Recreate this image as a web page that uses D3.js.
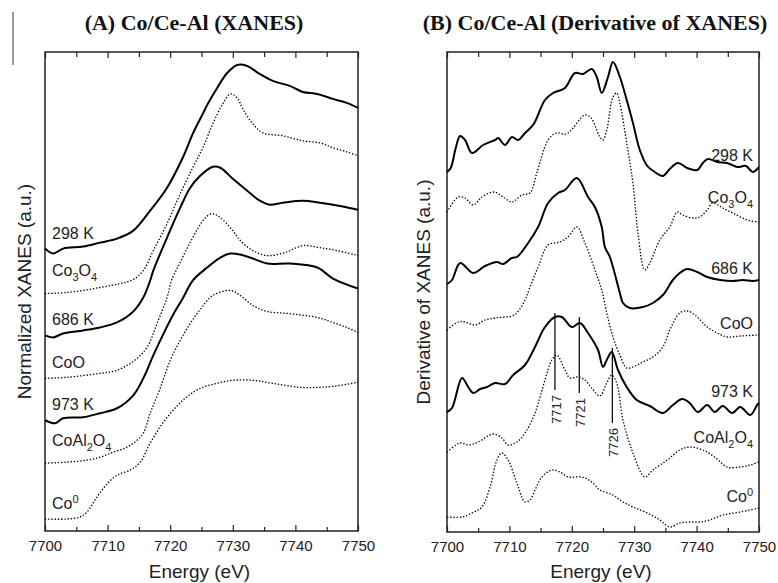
<!DOCTYPE html>
<html>
<head>
<meta charset="utf-8">
<script src="https://cdn.jsdelivr.net/npm/d3@7"></script>
<style>
  body { margin: 0; background: #fff; }
  svg { display: block; font-family: "Liberation Sans", Arial, sans-serif; }
  .title { font-family: "Liberation Serif", "Times New Roman", serif; font-weight: bold; font-size: 22px; fill: #111; }
  .axis-title { font-size: 19px; fill: #222; }
  .tick text { font-size: 15px; fill: #222; font-family: "Liberation Sans", Arial, sans-serif; }
  .tick line { stroke: #222; stroke-width: 1.2; }
  .curve-label { font-size: 16px; fill: #222; }
  .marker-label { font-size: 13px; fill: #222; }
</style>
</head>
<body>
<svg id="chart" width="778" height="583"></svg>
<script>
// energy axis (eV)
const energyTicks = [7700, 7710, 7720, 7730, 7740, 7750];
const minorTicks = [7705, 7715, 7725, 7735, 7745];

// (A) normalized XANES, stacked (a.u.)
const xanes298K = [[7700,2.83],[7701.3,2.78],[7702.9,2.83],[7706.1,2.85],[7708.8,2.89],[7711.5,2.93],[7714.1,3.01],[7716.8,3.21],[7719.5,3.44],[7722,3.74],[7723.6,3.98],[7725.2,4.18],[7726,4.28],[7727.5,4.44],[7729.1,4.59],[7730.7,4.67],[7732.3,4.66],[7734.3,4.58],[7736.4,4.51],[7739.1,4.46],[7741.2,4.40],[7743.5,4.38],[7746,4.33],[7748.2,4.29],[7750,4.24]];
const xanesCo3O4 = [[7700,2.38],[7703.5,2.39],[7708.8,2.44],[7712,2.48],[7714.1,2.52],[7715.7,2.61],[7717.3,2.81],[7719.5,3.08],[7721.6,3.38],[7723.6,3.64],[7725.2,3.84],[7726.8,4.08],[7728.4,4.28],[7729.6,4.38],[7730.7,4.34],[7731.6,4.23],[7733.2,4.08],[7734.8,3.99],[7738,3.96],[7741.2,3.91],[7743.9,3.89],[7746,3.84],[7748.2,3.80],[7750,3.76]];
const xanes686K = [[7700,1.96],[7701.3,1.94],[7702.9,1.98],[7706.1,2.01],[7708.8,2.04],[7711.5,2.09],[7714.1,2.20],[7715.7,2.34],[7716.8,2.51],[7717.3,2.61],[7719.5,2.94],[7721.6,3.24],[7723.2,3.44],[7724.8,3.56],[7726.8,3.65],[7728,3.64],[7730,3.53],[7732.3,3.41],[7734.3,3.31],[7735.9,3.27],[7738,3.29],[7741.2,3.31],[7743.9,3.29],[7746,3.27],[7750,3.22]];
const xanesCoO = [[7700,1.53],[7703.5,1.54],[7708.8,1.58],[7711.5,1.61],[7714.1,1.70],[7716.3,1.84],[7717.9,2.08],[7719.5,2.34],[7720.2,2.51],[7721.5,2.68],[7723,2.87],[7724.5,3.04],[7725.5,3.13],[7726.6,3.18],[7728,3.14],[7730,3.01],[7731.2,2.91],[7733.2,2.81],[7735.5,2.76],[7738.3,2.79],[7741.2,2.86],[7743.9,2.84],[7746.6,2.81],[7750,2.76]];
const xanes973K = [[7700,1.11],[7701.6,1.08],[7702.9,1.13],[7706.1,1.14],[7708.8,1.18],[7711.5,1.23],[7714.1,1.36],[7715.7,1.53],[7717.3,1.76],[7718.8,1.96],[7720.4,2.16],[7722,2.33],[7723.6,2.51],[7725.9,2.64],[7728,2.74],[7729.6,2.78],[7731.2,2.77],[7733.2,2.73],[7735.5,2.68],[7739.1,2.68],[7743.5,2.64],[7746,2.53],[7750,2.43]];
const xanesCoAl2O4 = [[7700,0.68],[7703.5,0.69],[7706.7,0.71],[7708.8,0.74],[7710.9,0.79],[7713.1,0.84],[7714.7,0.91],[7715.7,0.98],[7716.8,1.18],[7718.4,1.43],[7720,1.71],[7721.6,1.91],[7723.2,2.08],[7724.8,2.22],[7726.8,2.36],[7729.6,2.41],[7731.2,2.36],[7733.2,2.26],[7735.5,2.20],[7738.7,2.18],[7743.5,2.14],[7746,2.09],[7748.2,2.04],[7750,1.99]];
const xanesCo0 = [[7700,0.12],[7703.5,0.12],[7705.6,0.14],[7706.7,0.19],[7708.3,0.34],[7709.9,0.47],[7711.5,0.56],[7713.6,0.61],[7715.2,0.69],[7716.8,0.88],[7718.8,1.08],[7721.2,1.26],[7723.2,1.37],[7725.2,1.44],[7727.5,1.48],[7730,1.51],[7733.2,1.51],[7736.4,1.48],[7740.7,1.44],[7743.9,1.44],[7746,1.45],[7750,1.49]];

// (B) derivative of XANES, stacked (a.u.)
const deriv298K = [[7700,3.60],[7700.6,3.64],[7701.4,3.84],[7702.1,3.96],[7702.9,3.92],[7704,3.79],[7705.8,3.87],[7707.7,3.92],[7708.2,3.94],[7709.3,3.87],[7710.4,3.95],[7711.4,3.92],[7712.5,3.99],[7713.9,4.08],[7715.7,4.32],[7717,4.39],[7718.9,4.44],[7720.5,4.59],[7721.8,4.58],[7723.2,4.63],[7724,4.55],[7724.8,4.39],[7725.8,4.55],[7726.6,4.70],[7727.6,4.57],[7728.8,4.32],[7729.8,4.09],[7730.9,3.82],[7732.1,3.66],[7733.3,3.60],[7734.6,3.56],[7735.7,3.63],[7737,3.69],[7738.5,3.64],[7740.1,3.62],[7741,3.69],[7741.8,3.73],[7743.3,3.70],[7744.9,3.69],[7746.5,3.65],[7747.9,3.66],[7749,3.60],[7750,3.65]];
const derivCo3O4 = [[7700,3.20],[7701.8,3.35],[7702.9,3.34],[7704.2,3.27],[7705.6,3.35],[7707.5,3.40],[7709,3.35],[7710.4,3.30],[7712,3.37],[7713.3,3.39],[7714.4,3.59],[7716.2,3.92],[7717.5,3.99],[7719.1,3.98],[7720.2,4.04],[7722.1,4.17],[7723.1,4.14],[7724.4,3.96],[7725,3.92],[7725.6,4.02],[7726.6,4.35],[7727.2,4.39],[7727.7,4.29],[7728.8,3.89],[7729.8,3.49],[7730.6,2.99],[7731.7,2.62],[7732.5,2.69],[7734.1,2.92],[7735.7,3.05],[7736.9,3.20],[7737.8,3.17],[7739.3,3.14],[7740.5,3.15],[7741.7,3.22],[7742.6,3.29],[7744.2,3.24],[7745.8,3.19],[7748.1,3.12],[7750,3.10]];
const deriv686K = [[7700,2.48],[7700.8,2.52],[7702.1,2.69],[7704.2,2.59],[7706.1,2.66],[7708,2.70],[7709,2.68],[7710.4,2.74],[7711.2,2.75],[7713,2.89],[7714.6,3.05],[7716.2,3.29],[7717.8,3.39],[7718.9,3.42],[7720.8,3.54],[7722.6,3.35],[7723.7,3.25],[7724.8,3.05],[7725.3,2.85],[7726.1,2.75],[7727.7,2.39],[7728.2,2.29],[7729.3,2.24],[7731.4,2.25],[7733,2.29],[7734.6,2.37],[7736.2,2.52],[7737.3,2.59],[7738.5,2.63],[7740.1,2.60],[7741.7,2.55],[7743.8,2.52],[7745.8,2.51],[7747.4,2.52],[7749,2.51],[7750,2.52]];
const derivCoO = [[7700,2.02],[7701.8,2.10],[7702.9,2.10],[7704.5,2.07],[7706.1,2.12],[7707.7,2.14],[7710.4,2.16],[7711.2,2.19],[7712.5,2.32],[7713.3,2.45],[7714.6,2.65],[7716.2,2.87],[7718.1,2.90],[7719.4,2.95],[7720.8,3.05],[7722.1,2.89],[7723.7,2.62],[7724.8,2.42],[7725.6,2.19],[7726.6,1.95],[7727.7,1.77],[7728.8,1.64],[7729.8,1.65],[7731.4,1.70],[7733,1.75],[7734.6,1.85],[7735.7,2.02],[7737.3,2.19],[7738.6,2.21],[7740.1,2.15],[7741.7,2.05],[7743.3,1.99],[7744.9,1.95],[7747,1.96],[7750,1.97]];
const deriv973K = [[7700,1.20],[7700.8,1.24],[7702.4,1.54],[7703.4,1.45],[7704.2,1.39],[7705.3,1.43],[7706.4,1.45],[7707.7,1.49],[7709.3,1.48],[7710.6,1.57],[7712.5,1.67],[7714.1,1.85],[7715.7,2.05],[7717.3,2.15],[7718.4,2.15],[7720,2.05],[7721.3,2.09],[7722.6,1.99],[7724.2,1.82],[7725,1.65],[7725.6,1.72],[7726.4,1.80],[7727.4,1.62],[7728.8,1.45],[7730.4,1.32],[7732.5,1.26],[7734.6,1.19],[7736.2,1.27],[7737.7,1.33],[7738.9,1.29],[7740.2,1.20],[7741.7,1.27],[7742.9,1.20],[7744.2,1.26],[7745.7,1.19],[7747,1.25],[7748.6,1.17],[7749.7,1.27],[7750,1.29]];
const derivCoAl2O4 = [[7700,0.80],[7702.1,0.89],[7703.4,0.87],[7705,0.90],[7707.4,0.98],[7708.8,0.94],[7709.8,0.87],[7711.2,0.90],[7712.5,0.99],[7714.1,1.19],[7715.7,1.52],[7716.8,1.72],[7717.6,1.77],[7718.9,1.62],[7719.7,1.54],[7721,1.55],[7722.1,1.52],[7723.2,1.44],[7724.5,1.36],[7725.6,1.49],[7726.4,1.57],[7727.2,1.49],[7728.2,1.12],[7729.8,0.79],[7731.7,0.55],[7733,0.62],[7735.3,0.72],[7737.3,0.82],[7738.9,0.85],[7741,0.82],[7742.9,0.75],[7744.9,0.65],[7747,0.65],[7748.6,0.67],[7750,0.70]];
const derivCo0 = [[7700,0.15],[7702.4,0.15],[7704,0.19],[7705.6,0.25],[7706.9,0.45],[7708,0.72],[7708.8,0.79],[7709.8,0.72],[7711.2,0.49],[7712.5,0.30],[7713.3,0.32],[7714.1,0.42],[7715.2,0.55],[7716.8,0.62],[7718.1,0.60],[7719.4,0.55],[7721.6,0.55],[7723.2,0.50],[7724.5,0.42],[7726.6,0.37],[7728.2,0.30],[7729.8,0.25],[7732.1,0.19],[7734.1,0.12],[7735.7,0.05],[7737.3,0.09],[7738.9,0.10],[7740.5,0.10],[7742.1,0.12],[7744.2,0.17],[7747,0.20],[7750,0.24]];

const sampleNames = ["298 K", "Co3O4", "686 K", "CoO", "973 K", "CoAl2O4", "Co0"];

// peak markers on the 973 K derivative: energy, label, span (a.u.)
const peakEnergies = [7717.3, 7721.2, 7726.5];
const peakLabels = ["7717", "7721", "7726"];
const peakTops = [2.19, 2.15, 1.84];
const peakBottoms = [1.42, 1.39, 1.09];

const svg = d3.select("#chart");

// split a sample name into plain / subscript / superscript parts
function nameParts(name) {
  if (name.endsWith(" K")) return [[name, 0]];
  if (name === "Co0") return [["Co", 0], ["0", -1]];
  return name.match(/[A-Za-z]+|\d+/g).map(t => [t, /\d/.test(t) ? 1 : 0]);
}

function writeName(text, name) {
  let shift = 0;
  nameParts(name).forEach(([t, kind]) => {
    const target = kind === 1 ? 5 : kind === -1 ? -6 : 0;
    text.append("tspan")
      .attr("dy", target - shift)
      .style("font-size", kind === 0 ? null : "11px")
      .text(t);
    shift = target;
  });
}

function drawPanel(p) {
  const x = d3.scaleLinear().domain([7700, 7750]).range([p.left, p.right]);
  const y = d3.scaleLinear().domain([0, 4.8]).range([p.bottom, p.top]);
  const g = svg.append("g");

  // title
  g.append("text").attr("class", "title")
    .attr("x", p.titleX).attr("y", 30)
    .attr("text-anchor", "middle").text(p.title);

  // axes with inward ticks
  const bottom = g.append("g").attr("transform", "translate(0," + p.bottom + ")");
  bottom.call(d3.axisBottom(x).tickValues(energyTicks).tickFormat(d3.format("d"))
    .tickSizeInner(-6).tickSizeOuter(0).tickPadding(9));
  bottom.append("g").call(d3.axisBottom(x).tickValues(minorTicks).tickFormat("")
    .tickSizeInner(-4).tickSizeOuter(0));
  const top = g.append("g").attr("transform", "translate(0," + p.top + ")");
  top.call(d3.axisTop(x).tickValues(energyTicks).tickFormat("").tickSizeInner(-6).tickSizeOuter(0));
  top.append("g").call(d3.axisTop(x).tickValues(minorTicks).tickFormat("").tickSizeInner(-5).tickSizeOuter(0));
  g.selectAll(".domain").remove();

  g.append("rect")
    .attr("x", p.left).attr("y", p.top)
    .attr("width", p.right - p.left).attr("height", p.bottom - p.top)
    .attr("fill", "none").attr("stroke", "#222").attr("stroke-width", 1.5);

  // axis titles
  g.append("text").attr("class", "axis-title")
    .attr("x", (p.left + p.right) / 2 - 2).attr("y", 578)
    .attr("text-anchor", "middle").text("Energy (eV)");
  g.append("text").attr("class", "axis-title")
    .attr("transform", "translate(" + p.yLabelX + "," + (p.top + p.bottom) / 2 + ") rotate(-90)")
    .attr("text-anchor", "middle").text(p.yLabel);

  // spectra
  const line = d3.line()
    .x(d => x(d[0])).y(d => y(d[1]))
    .curve(d3.curveCatmullRom.alpha(0.5));

  p.series.forEach((s, i) => {
    const dotted = i % 2 === 1 || i === 6;
    g.append("path").datum(s)
      .attr("d", line)
      .attr("fill", "none")
      .attr("stroke", "#000")
      .attr("stroke-width", dotted ? 1.3 : 2)
      .attr("stroke-dasharray", dotted ? "1.4,1.8" : null)
      .attr("stroke-linejoin", "round");

    const name = sampleNames[i];
    const hasSub = /\d/.test(name) && !name.endsWith(" K") && name !== "Co0";
    const ref = p.labelRight ? s[s.length - 1][1] : s[0][1];
    const t = g.append("text").attr("class", "curve-label")
      .attr("x", p.labelRight ? p.right - 6 : p.left + 7)
      .attr("y", y(ref) - (hasSub ? p.subGap : p.gap))
      .attr("text-anchor", p.labelRight ? "end" : "start");
    writeName(t, name);
  });

  if (p.markers) {
    peakEnergies.forEach((e, i) => {
      g.append("line")
        .attr("x1", x(e)).attr("x2", x(e))
        .attr("y1", y(peakTops[i])).attr("y2", y(peakBottoms[i]))
        .attr("stroke", "#111").attr("stroke-width", 1.3);
      g.append("text").attr("class", "marker-label")
        .attr("transform", "translate(" + (x(e) + 1) + "," + (y(peakBottoms[i]) + 5) + ") rotate(-90)")
        .attr("text-anchor", "end").attr("dy", "0.35em")
        .text(peakLabels[i]);
    });
  }
}

// stray frame edge from the source figure
svg.append("line").attr("x1", 13).attr("x2", 13).attr("y1", 12).attr("y2", 65)
  .attr("stroke", "#555").attr("stroke-width", 1.2);

drawPanel({
  left: 45, right: 358, top: 52, bottom: 531,
  title: "(A) Co/Ce-Al (XANES)", titleX: 194,
  yLabel: "Normalized XANES (a.u.)", yLabelX: 31,
  series: [xanes298K, xanesCo3O4, xanes686K, xanesCoO, xanes973K, xanesCoAl2O4, xanesCo0],
  labelRight: false, gap: 10, subGap: 17
});

drawPanel({
  left: 447, right: 759, top: 52, bottom: 532,
  title: "(B) Co/Ce-Al (Derivative of XANES)", titleX: 595,
  yLabel: "Derivative of XANES (a.u.)", yLabelX: 430,
  series: [deriv298K, derivCo3O4, deriv686K, derivCoO, deriv973K, derivCoAl2O4, derivCo0],
  labelRight: true, gap: 6, subGap: 19, markers: true
});
</script>
</body>
</html>
